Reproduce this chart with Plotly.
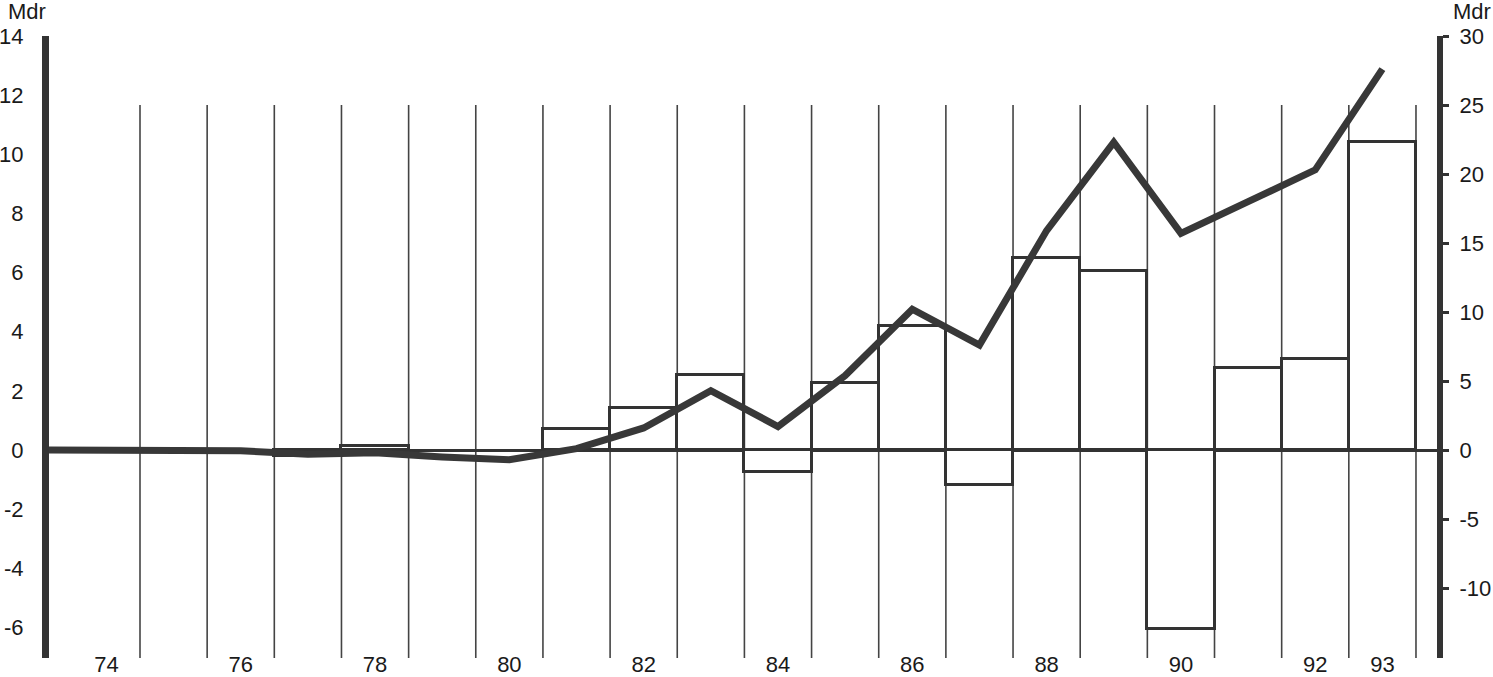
import plotly.graph_objects as go

# ---- data ----
years = list(range(74, 94))
bar_values = [None, None, None, -0.2, 0.15, None, None, 0.71, 1.42, 2.53,
              -0.74, 2.26, 4.2, -1.18, 6.5, 6.04, -6.04, 2.77, 3.07, 10.4]
line_years = [73] + years
line_values = [0, 0, 0, -0.05, -0.3, -0.2, -0.5, -0.7, 0.1, 1.6, 4.3,
               1.7, 5.4, 10.2, 7.6, 15.9, 22.3, 15.7, 18.0, 20.3, 27.6]
tick_years = [74, 76, 78, 80, 82, 84, 86, 88, 90, 92, 93]
left_ticks = [-6, -4, -2, 0, 2, 4, 6, 8, 10, 12, 14]
right_ticks = [-10, -5, 0, 5, 10, 15, 20, 25, 30]
unit_label = "Mdr"

INK = "#333333"
FONT = dict(family="Liberation Sans, Arial, sans-serif", size=22, color="#1a1a1a")

fig = go.Figure()

fig.add_trace(go.Bar(
    x=years, y=bar_values, width=1.0,
    marker=dict(color="white", line=dict(color=INK, width=3)),
    yaxis="y", showlegend=False,
))

fig.add_trace(go.Scatter(
    x=line_years, y=line_values, mode="lines",
    line=dict(color="#383838", width=7),
    yaxis="y2", showlegend=False,
))

# vertical separators between years
shapes = []
for yr in years:
    shapes.append(dict(type="line", xref="x", yref="y",
                       x0=yr + 0.5, x1=yr + 0.5, y0=-7.03, y1=11.67,
                       line=dict(color="#444444", width=1.6), layer="below"))

fig.update_layout(
    width=1493, height=677,
    margin=dict(l=49, r=56, t=36, b=19, autoexpand=False),
    paper_bgcolor="white", plot_bgcolor="white",
    font=FONT,
    bargap=0,
    shapes=shapes,
    xaxis=dict(range=[73.145, 93.813], tickvals=tick_years,
               ticktext=[str(t) for t in tick_years], automargin=False,
               anchor="free", position=0.015,
               showgrid=False, zeroline=False, showline=False, ticks="",
               tickfont=FONT),
    yaxis=dict(range=[-7.03, 14], tickvals=left_ticks,
               ticktext=[str(t) for t in left_ticks], automargin=False,
               showgrid=False, zeroline=True, zerolinecolor=INK, zerolinewidth=3,
               showline=True, linecolor=INK, linewidth=7, ticks="",
               ticklabelstandoff=14, tickfont=FONT),
    yaxis2=dict(range=[-15.07, 30], tickvals=right_ticks,
                ticktext=[str(t) for t in right_ticks], automargin=False,
                overlaying="y", side="right",
                showgrid=False, zeroline=False, showline=True, linecolor=INK,
                linewidth=6, ticks="outside", ticklen=6, tickwidth=3, tickcolor=INK,
                ticklabelstandoff=6, tickfont=FONT),
    annotations=[
        dict(text=unit_label, xref="paper", yref="paper", x=-0.0159, y=1.0386,
             xanchor="center", yanchor="middle", showarrow=False, font=FONT),
        dict(text=unit_label, xref="paper", yref="paper", x=1.0252, y=1.0386,
             xanchor="center", yanchor="middle", showarrow=False, font=FONT),
    ],
)

fig.write_html(
    "out.html",
    config={"displayModeBar": False},
    post_script="document.body.style.margin='0';document.body.style.overflow='hidden';",
)
